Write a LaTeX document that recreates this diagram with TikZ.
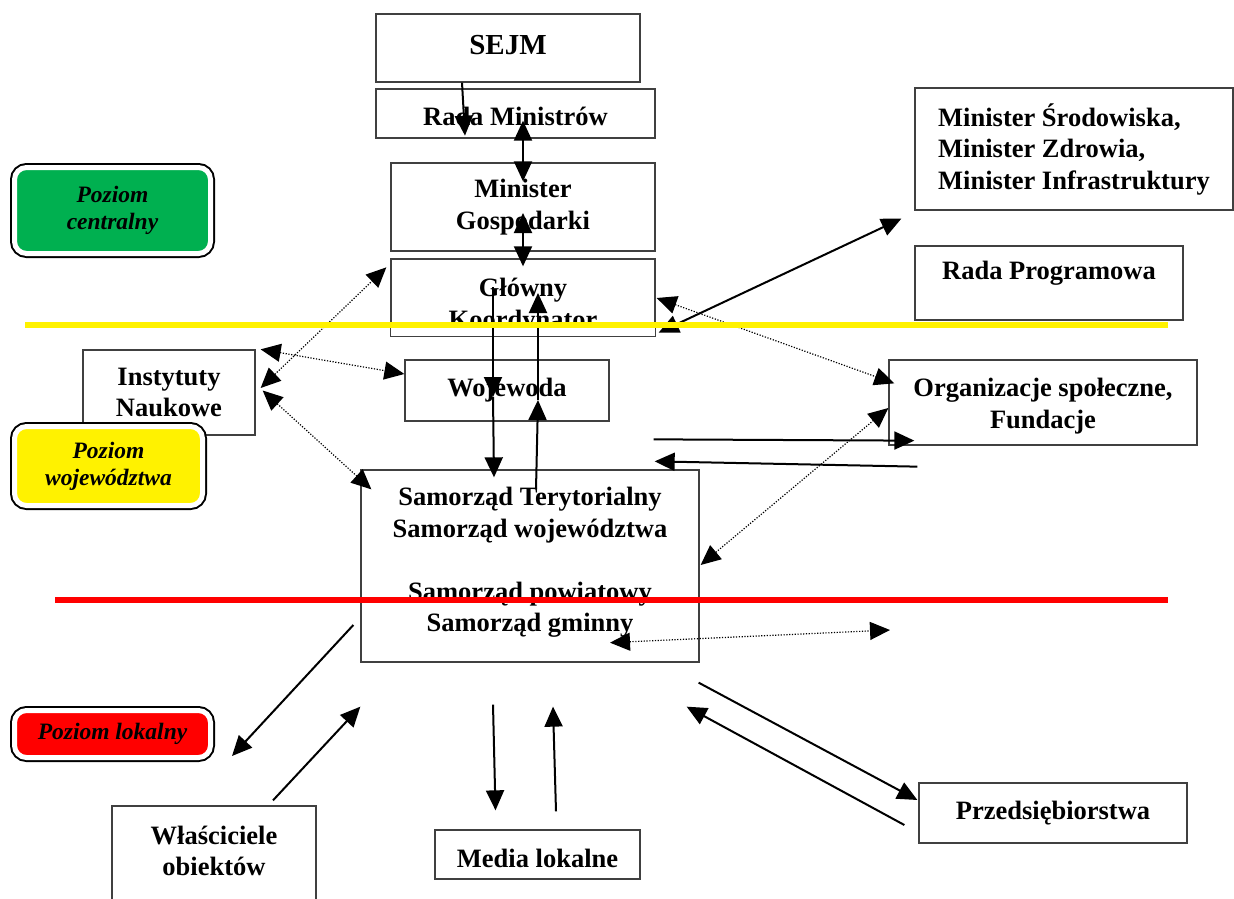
\documentclass[tikz,border=0pt]{standalone}
\usepackage{fontspec}
\setmainfont{Liberation Serif}
\usetikzlibrary{calc,arrows.meta}
\newcommand\boxfont{\fontsize{26.5}{31.5}\selectfont\bfseries}
\newcommand\levelfont{\fontsize{23.5}{27}\selectfont\bfseries\itshape}
\definecolor{levelgreen}{RGB}{0,176,80}
\tikzset{
	box/.style={draw=black!75, line width=1.3pt, fill=white, inner sep=0pt, align=center, font=\boxfont},
	level/.style={rounded corners=12pt, draw=white, line width=5pt, preaction={draw=black, line width=9pt}, inner sep=0pt, align=center, font=\levelfont},
	arr/.style={line width=2pt, ->},
	biarr/.style={line width=2pt, <->},
	dotarr/.style={line width=1.2pt, dash pattern=on 1.2pt off 1.6pt, <->},
	divider/.style={line width=6pt}
}

\begin{document}
\begin{tikzpicture}[x=1pt, y=-1pt, >={Triangle[length=20pt,width=18pt]}]
		%%%%% START %%%%%
		\useasboundingbox (0,0) rectangle (1234,899);
		
		\node[box, minimum width=264pt, minimum height=68pt, text depth=6pt, font=\fontsize{29}{33}\selectfont\bfseries] (sejm) at (508,48) {SEJM};
		\node[box, minimum width=279pt, minimum height=49pt, text height=24pt] (rada) at (515.5,113.5) {Rada Ministrów};
		\node[box, minimum width=264pt, minimum height=88pt] (mingosp) at (523,207) {Minister\\Gospodarki};
		\begin{scope}
			\clip (380,250) rectangle (670,322);
			\node[box, minimum width=264pt, minimum height=77pt] (koord) at (523,297.5) {\rule{0pt}{36pt}Główny\\Koordynator};
		\end{scope}
		\draw[draw=black!75, line width=1.3pt] (koord.north west) rectangle (koord.south east);
		
		\node[box, minimum width=318pt, minimum height=122pt, align=left] (minsrod) at (1074,149) {Minister Środowiska,\\Minister Zdrowia,\\Minister Infrastruktury};
		\node[box, minimum width=268pt, minimum height=74pt, text depth=26pt] (radaprog) at (1049,283) {Rada Programowa};
		\node[box, minimum width=308pt, minimum height=85pt] (org) at (1043,402.5) {\rule{0pt}{26pt}Organizacje społeczne,\\Fundacje};
		
		\node[box, minimum width=204pt, minimum height=61pt] (woj) at (507,390.5) {Wojewoda};
		\node[box, minimum width=172pt, minimum height=85pt] (inst) at (169,392.5) {Instytuty\\Naukowe};
		\node[box, minimum width=338pt, minimum height=192pt, text depth=13pt] (samorz) at (530,566) {Samorząd Terytorialny\\Samorząd województwa\\[31.5pt]Samorząd powiatowy\\Samorząd gminny};
		
		\node[box, minimum width=204pt, minimum height=99pt] (wlasc) at (214,855.5) {Właściciele\\obiektów\rule[-9pt]{0pt}{9pt}};
		\node[box, minimum width=205pt, minimum height=49pt, text height=26pt] (media) at (537.5,854.5) {Media lokalne};
		\node[box, minimum width=268pt, minimum height=60pt] (przeds) at (1053,813) {Przedsiębiorstwa};
		
		\node[level, fill=levelgreen, minimum width=196pt, minimum height=86pt] (pcentr) at (112.5,210.5) {Poziom\\centralny};
		\node[level, fill=yellow, minimum width=188pt, minimum height=79pt] (pwoj) at (108.5,466) {Poziom\\województwa};
		\node[level, fill=red, minimum width=196pt, minimum height=47pt] (plok) at (112.5,734) {Poziom lokalny};
		
		\draw[arr] ($(sejm.south)+(-46,0)$) -- ($(rada.south)+(-50.5,-3)$);
		\draw[biarr] ($(rada.south)+(7.5,-18)$) -- ($(mingosp.north)+(0,19)$);
		\draw[biarr] ($(mingosp.center)+(0,6)$) -- ($(koord.north)+(0,8)$);
		\draw[arr] ($(koord.center)+(-30,-10.5)$) -- ($(woj.center)+(-14,6.5)$);
		\draw[arr] ($(woj.center)+(-14,6.5)$) -- ($(samorz.north)+(-36,8)$);
		\draw[arr] ($(samorz.north)+(6,20)$) -- ($(woj.center)+(31,9.5)$);
		\draw[arr] ($(woj.center)+(31,9.5)$) -- ($(koord.center)+(15,-4.5)$);
		
		\draw[dotarr] ($(koord.east)+(1,0.5)$) -- ($(org.north west)+(6,24)$);
		\draw[biarr] ($(koord.south east)+(3,-4)$) -- ($(minsrod.south west)+(-13,8)$);
		\draw[dotarr] ($(inst.east)+(5,-4.5)$) -- ($(koord.north west)+(-4,9)$);
		\draw[dotarr] ($(inst.north east)+(5,0)$) -- ($(woj.west)+(0,-16.5)$);
		\draw[dotarr] ($(inst.east)+(7,-2)$) -- ($(samorz.north west)+(11,20)$);
		
		\draw[arr] ($(samorz.north east)+(-46,-30)$) -- ($(org.south west)+(26,-5)$);
		\draw[arr] ($(org.south west)+(29,21)$) -- ($(samorz.north east)+(-45,-8)$);
		\draw[dotarr] ($(samorz.east)+(1,-1)$) -- ($(org.west)+(0,5.5)$);
		\coordinate (dotend) at (890,630);
		\draw[dotarr] ($(samorz.south)+(80,-20)$) -- (dotend);
		
		\draw[arr] ($(samorz.west)+(-7,59)$) -- ($(plok.east)+(19,22)$);
		\draw[arr] ($(wlasc.north)+(59,-5)$) -- ($(samorz.south west)+(0,44)$);
		\draw[arr] ($(samorz.south)+(-37,42)$) -- ($(media.north)+(-42,-19)$);
		\draw[arr] ($(media.north)+(18.5,-18)$) -- ($(samorz.south)+(23,44)$);
		\draw[arr] ($(samorz.south east)+(-1,20)$) -- ($(przeds.west)+(-1,-13)$);
		\draw[arr] ($(przeds.west)+(-14,12)$) -- ($(samorz.south east)+(-13,44)$);
		
		\draw[divider, yellow] (25,325) -- (1168,325);
		\draw[divider, red] (55,600) -- (1168,600);
		
		%%%%% END %%%%%
\end{tikzpicture}
\end{document}
